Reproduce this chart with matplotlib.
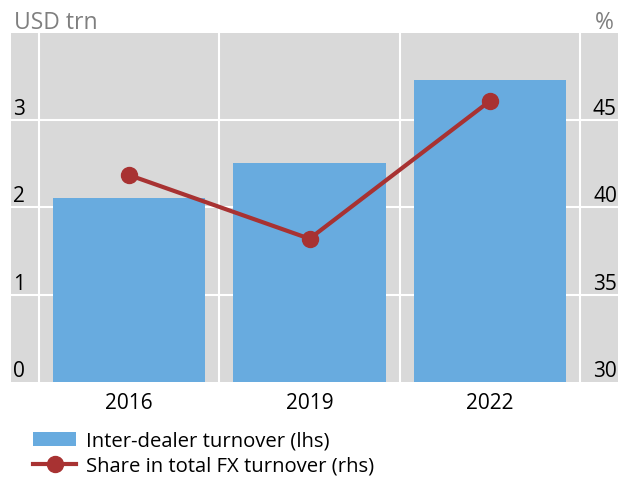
import matplotlib
matplotlib.use("Agg")
import matplotlib.pyplot as plt
from matplotlib.patches import Patch
from matplotlib.lines import Line2D

plt.rcParams['font.family'] = ['Open Sans', 'DejaVu Sans']

years = ["2016", "2019", "2022"]
turnover = [2.11, 2.51, 3.46]       # USD trn, lhs
share = [41.85, 38.2, 46.1]          # %, rhs
lhs_ticks = [0, 1, 2, 3]
rhs_ticks = [30, 35, 40, 45]

BAR = "#68abdf"
LINE = "#a83232"
BG = "#d9d9d9"
GRAY = "#7f7f7f"
FS = 15
LFS = 14.6

W, H = 618, 478
fig = plt.figure(figsize=(W / 100, H / 100), dpi=100)
ax = fig.add_axes([11 / W, (H - 381.7) / H, (W - 11) / W, (381.7 - 33) / H])
ax.set_facecolor(BG)
for s in ax.spines.values():
    s.set_visible(False)

x = list(range(len(years)))
ax.bar(x, turnover, width=0.845, color=BAR, zorder=3)
ax.set_xlim(-0.655, 2.71)
ax.set_ylim(0, 4)

# grid
for gx in [-0.5, 0.5, 1.5, 2.5]:
    ax.axvline(gx, color="white", lw=1.5, zorder=1)
for gy in lhs_ticks[1:]:
    ax.axhline(gy, color="white", lw=1.5, zorder=1)

ax.set_xticks(x)
ax.set_xticklabels(years, fontsize=FS)
ax.tick_params(axis="x", length=0, pad=8)

ax.set_yticks(lhs_ticks)
ax.set_yticklabels([str(t) for t in lhs_ticks], fontsize=FS)
ax.tick_params(axis="y", length=0, pad=-1.5)
for lab in ax.get_yticklabels():
    lab.set_ha("left")
    lab.set_va("bottom")

ax2 = ax.twinx()
for s in ax2.spines.values():
    s.set_visible(False)
ax2.set_ylim(30, 50)
ax2.plot(x, share, color=LINE, lw=3, marker="o", markersize=11.5, zorder=5)
ax2.set_yticks(rhs_ticks)
ax2.set_yticklabels([str(t) for t in rhs_ticks], fontsize=FS)
ax2.tick_params(axis="y", length=0, pad=-0.8)
for lab in ax2.get_yticklabels():
    lab.set_ha("right")
    lab.set_va("bottom")

fig.text(14 / W, 1 - 23 / H, "USD trn", color=GRAY, fontsize=16.5, va="center", ha="left")
fig.text(614 / W, 1 - 23 / H, "%", color=GRAY, fontsize=16.5, va="center", ha="right")

handles = [
    Patch(facecolor=BAR, edgecolor="none", label="Inter-dealer turnover (lhs)"),
    Line2D([0], [0], color=LINE, lw=3, marker="o", markersize=11.5,
           label="Share in total FX turnover (rhs)"),
]
fig.legend(handles=handles, loc="upper left", bbox_to_anchor=(33 / W, 1 - 431 / H),
           frameon=False, fontsize=LFS, handlelength=2.13, handleheight=0.74,
           handletextpad=0.49, labelspacing=0.28, borderpad=0, borderaxespad=0)

fig.savefig("out.png", dpi=100)
